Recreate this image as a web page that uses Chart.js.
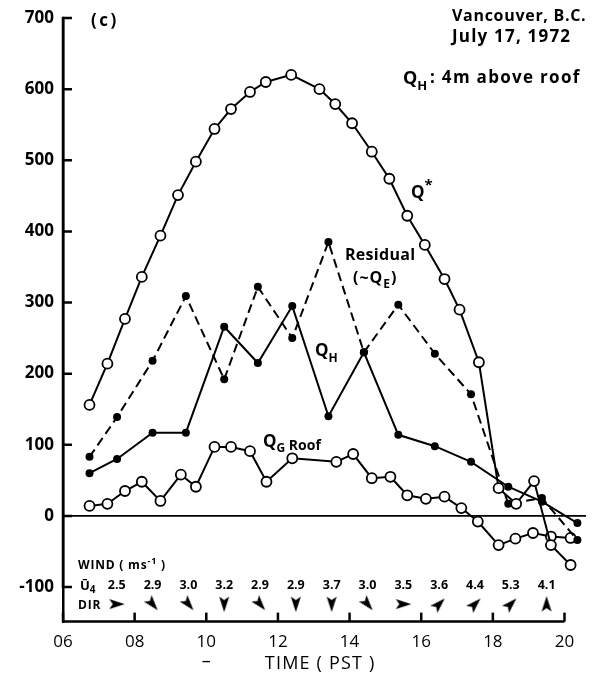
<!DOCTYPE html>
<html>
<head>
<meta charset="utf-8">
<script src="https://cdn.jsdelivr.net/npm/chart.js@4.4.0/dist/chart.umd.min.js"></script>
<style>
  html, body { margin: 0; padding: 0; background: #fff; }
  #wrap { width: 595px; height: 678px; }
</style>
</head>
<body>
<div id="wrap"><canvas id="chart" width="595" height="678"></canvas></div>
<script>
// Net radiation Q* (open circles)
const qStarTimes = [6.74, 7.24, 7.73, 8.20, 8.72, 9.21, 9.71, 10.23, 10.69, 11.22, 11.66, 12.37, 13.16, 13.60, 14.07, 14.62, 15.11, 15.61, 16.10, 16.65, 17.07, 17.61, 18.16, 18.65, 19.15, 19.62, 20.17];
const qStarValues = [156, 214, 277, 336, 394, 451, 498, 544, 572, 596, 610, 620, 600, 579, 552, 512, 474, 422, 381, 333, 290, 216, 39, 17, 49, -41, -69];

// QG roof (open circles)
const qgTimes = [6.74, 7.24, 7.73, 8.20, 8.72, 9.29, 9.71, 10.23, 10.69, 11.22, 11.68, 12.40, 13.63, 14.10, 14.62, 15.14, 15.61, 16.13, 16.65, 17.12, 17.58, 18.16, 18.63, 19.12, 19.62, 20.17];
const qgValues = [14, 17, 35, 48, 21, 58, 41, 97, 97, 91, 48, 81, 76, 87, 53, 55, 29, 24, 27, 11, -8, -41, -32, -24, -29, -31];

// hourly QH and residual (filled dots)
const hourTimes = [6.74, 7.51, 8.50, 9.43, 10.50, 11.44, 12.40, 13.41, 14.40, 15.36, 16.38, 17.39, 18.43, 19.37, 20.36];
const qhValues = [60, 80, 117, 117, 266, 215, 295, 140, 230, 114, 98, 76, 41, 20, -10];
const residualValues = [83, 139, 218, 309, 192, 322, 250, 385, 230, 297, 228, 171, 17, 25, -34];

// wind at 4 m
const windTimes = [7.5, 8.5, 9.5, 10.5, 11.5, 12.5, 13.5, 14.5, 15.5, 16.5, 17.5, 18.5, 19.5];
const windSpeeds = ["2.5", "2.9", "3.0", "3.2", "2.9", "2.9", "3.7", "3.0", "3.5", "3.6", "4.4", "5.3", "4.1"];
const windDirs = [0, 50, 50, 90, 50, 90, 90, 50, 0, -45, -45, -45, -90];

const xTicks = [6, 8, 10, 12, 14, 16, 18, 20];
const yTicks = [-100, 0, 100, 200, 300, 400, 500, 600, 700];

const FONT = "'Open Sans', 'DejaVu Sans', sans-serif";
const TICK_LEN_H = 0.25; // inward tick length, in hours

function pts(tt, vv){
  return tt.map((t, i) => ({ x: t, y: vv[i] }));
}

// inward tick marks on the energy axis, broken apart with null points
function yTickMarks(){
  const out = [];
  for(const v of yTicks){
    out.push({ x: 6, y: v }, { x: 6 + TICK_LEN_H, y: v }, { x: 6 + TICK_LEN_H, y: null });
  }
  return out;
}

// arrowhead glyph, drawn pointing right
function makeArrow(){
  const c = document.createElement("canvas");
  c.width = 18; c.height = 18;
  const g = c.getContext("2d");
  g.fillStyle = "#000";
  g.beginPath();
  g.moveTo(17, 9);
  g.lineTo(1.5, 4);
  g.lineTo(5, 9);
  g.lineTo(1.5, 14);
  g.closePath();
  g.fill();
  return c;
}
const arrowImg = makeArrow();

function drawParts(ctx, x, y, parts, spacing){
  ctx.letterSpacing = (spacing || 0) + "px";
  let cx = x;
  for(const [t, size, dy] of parts){
    ctx.font = "bold " + size + "px " + FONT;
    ctx.fillText(t, cx, y + dy);
    cx += ctx.measureText(t).width;
  }
  ctx.letterSpacing = "0px";
}

function seg(ctx, x1, y1, x2, y2){
  ctx.beginPath();
  ctx.moveTo(x1, y1);
  ctx.lineTo(x2, y2);
  ctx.stroke();
}

const decorPlugin = {
  id: "decor",
  afterDraw(chart){
    const ctx = chart.ctx;
    const xs = chart.scales.x, ys = chart.scales.y;
    ctx.save();
    ctx.setLineDash([]);
    ctx.strokeStyle = "#000";
    ctx.fillStyle = "#000";
    ctx.lineWidth = 2.5;

    // time axis bracket, ticks pointing up
    const yb = ys.bottom - 1;
    seg(ctx, xs.getPixelForValue(6), yb, xs.getPixelForValue(20), yb);
    for(const v of xTicks){
      const px = xs.getPixelForValue(v);
      seg(ctx, px, yb, px, yb - 9);
    }

    ctx.textBaseline = "alphabetic";
    ctx.textAlign = "left";

    // header texts
    drawParts(ctx, 91, 26, [["(c)", 17, 0]], 2.5);
    drawParts(ctx, 452, 21, [["Vancouver, B.C.", 16, 0]], 0.7);
    drawParts(ctx, 452, 42, [["July 17, 1972", 17, 0]], 1.2);
    drawParts(ctx, 403, 84, [["Q", 18, 0], ["H", 13, 6]]);
    drawParts(ctx, 430, 83, [[": 4m above roof", 17, 0]], 1.3);

    // series labels
    drawParts(ctx, 411, 198, [["Q", 17, 0], ["*", 15, -8]]);
    drawParts(ctx, 345, 260, [["Residual", 16, 0]], 0.3);
    drawParts(ctx, 353, 283, [["(~Q", 16, 0], ["E", 12, 5], [")", 16, 0]], 1);
    drawParts(ctx, 315, 356, [["Q", 17, 0], ["H", 12, 6]]);
    drawParts(ctx, 263, 447, [["Q", 17, 0], ["G", 12, 5], [" Roof", 14, 3]]);

    // wind block
    drawParts(ctx, 78, 569, [["WIND ( ms", 12, 0], ["-1", 9, -5], [" )", 12, 0]], 0.8);
    drawParts(ctx, 80, 590, [["\u016A", 13, 0], ["4", 10, 3]]);
    drawParts(ctx, 78, 609, [["DIR", 12, 0]], 0.8);
    ctx.textAlign = "center";
    ctx.font = "bold 12.5px " + FONT;
    const yl = ys.getPixelForValue(-97) + 4;
    windTimes.forEach((t, i) => {
      ctx.fillText(windSpeeds[i], xs.getPixelForValue(t), yl);
    });

    // axis title
    ctx.font = "18px " + FONT;
    ctx.letterSpacing = "1.2px";
    ctx.fillText("TIME ( PST )", xs.getPixelForValue(13.18), 669);
    ctx.letterSpacing = "0px";
    ctx.fillText("\u2013", xs.getPixelForValue(10.0), 667);
    ctx.restore();
  }
};

const lineBase = {
  borderColor: "#000",
  borderWidth: 2,
  tension: 0,
  pointBorderColor: "#000",
  pointHoverRadius: 0,
  fill: false
};

new Chart(document.getElementById("chart"), {
  type: "scatter",
  data: {
    datasets: [
      Object.assign({}, lineBase, {
        label: "Q*", data: pts(qStarTimes, qStarValues), showLine: true,
        pointRadius: 5, pointBackgroundColor: "#fff", pointBorderWidth: 1.8
      }),
      Object.assign({}, lineBase, {
        label: "Residual", data: pts(hourTimes, residualValues), showLine: true,
        borderDash: [9, 5], pointRadius: 4, pointBackgroundColor: "#000", pointBorderWidth: 0
      }),
      Object.assign({}, lineBase, {
        label: "QH", data: pts(hourTimes, qhValues), showLine: true,
        pointRadius: 4, pointBackgroundColor: "#000", pointBorderWidth: 0
      }),
      Object.assign({}, lineBase, {
        label: "QG Roof", data: pts(qgTimes, qgValues), showLine: true,
        pointRadius: 5, pointBackgroundColor: "#fff", pointBorderWidth: 1.8
      }),
      Object.assign({}, lineBase, {
        label: "zero", data: [{ x: 6, y: 0 }, { x: 20.6, y: 0 }], showLine: true,
        borderWidth: 1.8, pointRadius: 0
      }),
      Object.assign({}, lineBase, {
        label: "energy axis", data: [{ x: 6, y: 700 }, { x: 6, y: -100 }], showLine: true,
        borderWidth: 2.5, borderCapStyle: "square", pointRadius: 0, clip: false
      }),
      Object.assign({}, lineBase, {
        label: "energy ticks", data: yTickMarks(), showLine: true, spanGaps: false,
        borderWidth: 2.5, pointRadius: 0, clip: false
      }),
      {
        label: "wind dir", data: windTimes.map(t => ({ x: t, y: -124 })),
        pointStyle: arrowImg, pointRotation: windDirs, pointRadius: 8, showLine: false
      }
    ]
  },
  options: {
    responsive: false,
    animation: false,
    devicePixelRatio: 1,
    events: [],
    layout: { padding: { top: 18, right: 0, left: 0, bottom: 0 } },
    plugins: { legend: { display: false }, tooltip: { enabled: false } },
    scales: {
      x: {
        type: "linear", min: 6, max: 20.6,
        afterBuildTicks: s => { s.ticks = xTicks.map(v => ({ value: v })); },
        afterFit: s => { s.height = 55.4; s.paddingLeft = 0; s.paddingRight = 0; },
        grid: { display: false, drawTicks: false },
        border: { display: false },
        ticks: {
          padding: 9, color: "#000", maxRotation: 0, autoSkip: false,
          font: { family: FONT, size: 17 },
          callback: v => String(v).padStart(2, "0")
        }
      },
      y: {
        min: -150, max: 700,
        afterBuildTicks: s => { s.ticks = yTicks.map(v => ({ value: v })); },
        afterFit: s => { s.width = 63; s.paddingTop = 0; s.paddingBottom = 0; },
        grid: { display: false, drawTicks: false },
        border: { display: true, color: "#000", width: 2.5 },
        ticks: {
          padding: 9, color: "#000",
          font: { family: FONT, size: 17, weight: "bold" }
        }
      }
    }
  },
  plugins: [decorPlugin]
});
</script>
</body>
</html>
